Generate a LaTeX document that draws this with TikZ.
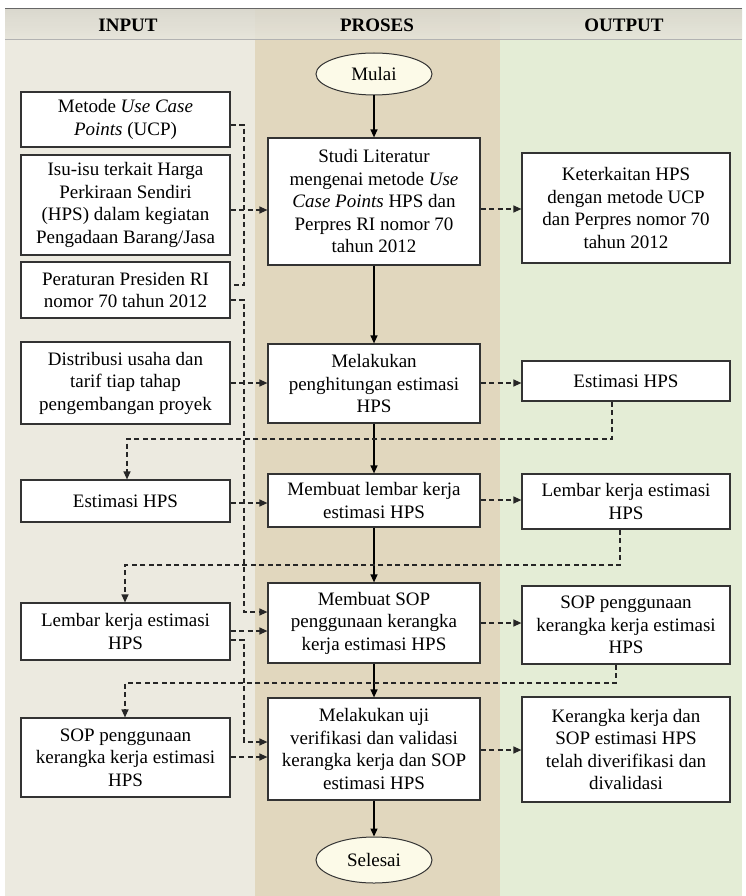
\documentclass[tikz,border=0pt]{standalone}
\usepackage{fontspec}
\setmainfont{Liberation Serif}
\usetikzlibrary{arrows.meta,shapes.geometric}
\definecolor{colin}{HTML}{ECEAE0}
\definecolor{colpro}{HTML}{E1D7BE}
\definecolor{colout}{HTML}{E4EDD6}
\definecolor{headtop}{HTML}{D8D6CC}
\definecolor{headbot}{HTML}{E6E4DA}
\definecolor{termfill}{HTML}{FCFAE8}
\definecolor{edge}{HTML}{333333}
\begin{document}
\begin{tikzpicture}[x=1pt,y=-1pt,
  every node/.style={font=\fontsize{19}{22.5}\selectfont},
  box/.style={draw=edge, line width=1.2pt, fill=white, minimum width=209pt,
    align=center, inner sep=0pt},
  term/.style={ellipse, draw=edge, line width=1pt, fill=termfill,
    minimum width=116pt, minimum height=42pt, inner sep=0pt},
  head/.style={font=\fontsize{19}{22}\selectfont\bfseries},
  flow/.style={line width=1.3pt, draw=black, -{Triangle[length=8pt,width=7pt]}},
  feed/.style={line width=1.2pt, draw=black!85, dash pattern=on 5pt off 3.5pt,
    -{Triangle[length=8pt,width=7pt]}},
  link/.style={line width=1.2pt, draw=black!85, dash pattern=on 5pt off 3.5pt}]

% page and column bands
\useasboundingbox (0,0) rectangle (746,896);
\fill[white] (0,0) rectangle (746,896);
\fill[colin] (5,9) rectangle (255,896);
\fill[colpro] (255,9) rectangle (500,896);
\fill[colout] (500,9) rectangle (742,896);
% heading strip
\shade[top color=headtop, bottom color=headbot, opacity=0.85] (5,9) rectangle (742,40);
\draw[line width=1pt, color=black!60] (5,9) -- (742,9);
\draw[line width=1pt, color=black!30] (5,40) -- (742,40);
\node[head] (hin) at (128,25) {INPUT};
\node[head] (hpro) at (377,25) {PROSES};
\node[head] (hout) at (624,25) {OUTPUT};

% process column
\node[term] (mulai) at (374,74) {Mulai};
\node[box, minimum width=212pt, minimum height=127pt] (studi) at (374,201.5)
  {Studi Literatur\\mengenai metode \textit{Use}\\\textit{Case Points} HPS dan\\Perpres RI nomor 70\\tahun 2012};
\node[box, minimum width=212pt, minimum height=79pt] (pen) at (374,383.5)
  {Melakukan\\penghitungan estimasi\\HPS};
\node[box, minimum width=212pt, minimum height=53pt] (lem) at (374,500.5)
  {Membuat lembar kerja\\estimasi HPS};
\node[box, minimum width=212pt, minimum height=80pt] (sop) at (374,623)
  {Membuat SOP\\penggunaan kerangka\\kerja estimasi HPS};
\node[box, minimum width=212pt, minimum height=102pt] (uji) at (374,749)
  {Melakukan uji\\verifikasi dan validasi\\kerangka kerja dan SOP\\estimasi HPS};
\node[term, minimum height=46pt] (selesai) at (374,860) {Selesai};

% input column
\node[box, minimum height=55pt] (ucp) at (125.5,119.5)
  {Metode \textit{Use Case}\\\textit{Points} (UCP)};
\node[box, minimum height=100pt] (isu) at (125.5,205)
  {Isu-isu terkait Harga\\Perkiraan Sendiri\\(HPS) dalam kegiatan\\Pengadaan Barang/Jasa};
\node[box, minimum height=56pt] (per) at (125.5,290)
  {Peraturan Presiden RI\\nomor 70 tahun 2012};
\node[box, minimum height=82pt] (dist) at (125.5,383)
  {Distribusi usaha dan\\tarif tiap tahap\\pengembangan proyek};
\node[box, minimum height=42pt] (estin) at (125.5,501) {Estimasi HPS};
\node[box, minimum height=57pt] (lemin) at (125.5,631.5)
  {Lembar kerja estimasi\\HPS};
\node[box, minimum height=79pt] (sopin) at (125.5,757.5)
  {SOP penggunaan\\kerangka kerja estimasi\\HPS};

% output column
\node[box, minimum width=208pt, minimum height=110pt] (ket) at (626,208)
  {Keterkaitan HPS\\dengan metode UCP\\dan Perpres nomor 70\\tahun 2012};
\node[box, minimum width=208pt, minimum height=40pt] (estout) at (626,381) {Estimasi HPS};
\node[box, minimum width=208pt, minimum height=55pt] (lemout) at (626,501.5)
  {Lembar kerja estimasi\\HPS};
\node[box, minimum width=208pt, minimum height=78pt] (sopout) at (626,625)
  {SOP penggunaan\\kerangka kerja estimasi\\HPS};
\node[box, minimum width=208pt, minimum height=105pt] (ker) at (626,749.5)
  {Kerangka kerja dan\\SOP estimasi HPS\\telah diverifikasi dan\\divalidasi};

% main sequence
\draw[flow] (mulai.south) -- (studi.north);
\draw[flow] (studi.south) -- (pen.north);
\draw[flow] (pen.south) -- (lem.north);
\draw[flow] (lem.south) -- (sop.north);
\draw[flow] (sop.south) -- (uji.north);
\draw[flow] (uji.south) -- (selesai.north);

% inputs feeding the processes
\draw[link] (ucp.east |- 0,125) -- (244,125) -- (244,285) -- (per.east |- 0,285);
\draw[feed] (isu.east |- 0,210) -- (studi.west |- 0,210);
\draw[feed] (per.east |- 0,300) -- (244,300) -- (244,612) -- (sop.west |- 0,612);
\draw[feed] (dist.east |- 0,383) -- (pen.west |- 0,383);
\draw[feed] (estin.east |- 0,503) -- (lem.west |- 0,503);
\draw[feed] (lemin.east |- 0,631) -- (sop.west |- 0,631);
\draw[feed] (lemin.east |- 0,640) -- (244,640) -- (244,742) -- (uji.west |- 0,742);
\draw[feed] (sopin.east |- 0,757) -- (uji.west |- 0,757);

% process outputs
\draw[feed] (studi.east |- 0,209) -- (ket.west |- 0,209);
\draw[feed] (pen.east |- 0,383) -- (estout.west |- 0,383);
\draw[feed] (lem.east |- 0,500) -- (lemout.west |- 0,500);
\draw[feed] (sop.east |- 0,623) -- (sopout.west |- 0,623);
\draw[feed] (uji.east |- 0,750) -- (ker.west |- 0,750);

% outputs carried back as inputs of the next step
\draw[feed] (estout.south -| 612,0) -- (612,439) -- (127,439) -- (estin.north -| 127,0);
\draw[feed] (lemout.south -| 620,0) -- (620,565) -- (125,565) -- (lemin.north -| 125,0);
\draw[feed] (sopout.south -| 616,0) -- (616,683) -- (125,683) -- (sopin.north -| 125,0);
\end{tikzpicture}
\end{document}
